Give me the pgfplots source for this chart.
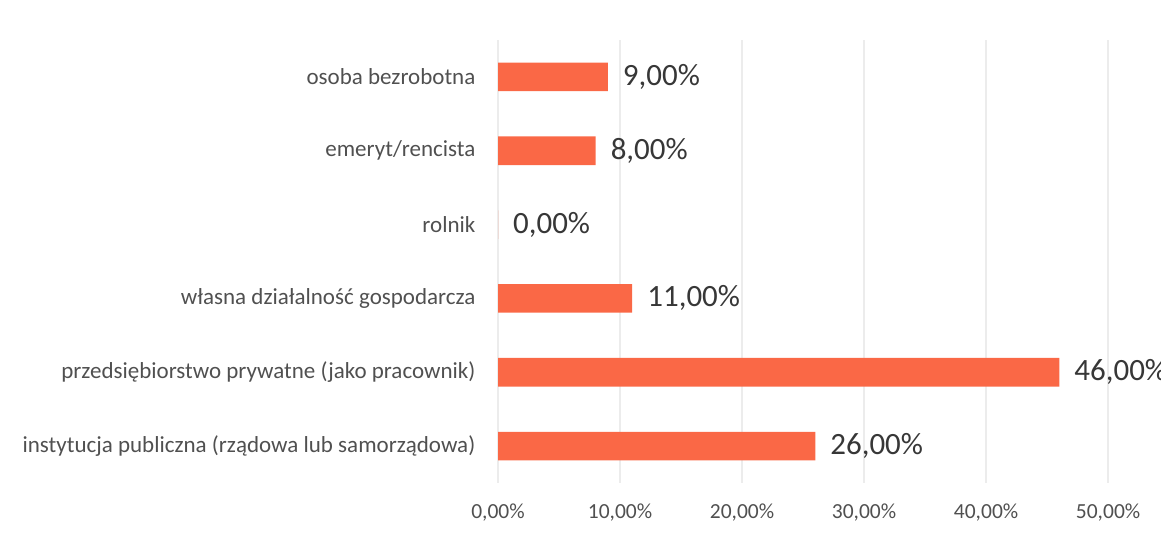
\documentclass[border=0pt]{standalone}
\usepackage{pgfplots}
\pgfplotsset{compat=1.18}
\usepackage{fontspec}
\setmainfont{Carlito}
\definecolor{barorange}{RGB}{250,104,70}
\definecolor{labelgray}{RGB}{80,80,80}
\definecolor{valgray}{RGB}{55,55,55}
\definecolor{gridgray}{RGB}{236,236,236}
\begin{document}
\begin{tikzpicture}
\begin{axis}[
	scale only axis,
	width=283.7pt, height=206pt,
	xbar,
	bar width=13.3pt,
	xmin=0, xmax=50,
	ymin=-0.5, ymax=5.5,
	axis line style={draw=none},
	xmajorgrids,
	grid style={gridgray, line width=0.6pt},
	major tick length=0pt,
	xtick={0,10,20,30,40,50},
	ytick={0,1,2,3,4,5},
	yticklabels={instytucja publiczna (rządowa lub samorządowa),
		przedsiębiorstwo prywatne (jako pracownik),
		własna działalność gospodarcza,
		rolnik,
		emeryt/rencista,
		osoba bezrobotna},
	/pgf/number format/assume math mode=true,
	/pgf/number format/.cd, fixed, fixed zerofill, precision=2, use comma,
	/pgfplots/.cd,
	xticklabel={\pgfmathprintnumber{\tick}\%},
	xticklabel style={font=\fontsize{10}{12}\selectfont, text=labelgray, yshift=-6pt},
	yticklabel style={font=\fontsize{10.7}{12}\selectfont, text=labelgray, xshift=-7pt},
	nodes near coords={\pgfmathprintnumber{\pgfplotspointmeta}\%},
	nodes near coords align={horizontal},
	every node near coord/.append style={font=\fontsize{14.4}{16}\selectfont, text=valgray, xshift=3.5pt},
]
\addplot[fill=barorange, draw=none]
	coordinates {(26,0) (46,1) (11,2) (0,3) (8,4) (9,5)};
\end{axis}
\pgfresetboundingbox
\useasboundingbox (-231.6pt,-23.3pt) rectangle (308.3pt,224.6pt);
\end{tikzpicture}
\end{document}
